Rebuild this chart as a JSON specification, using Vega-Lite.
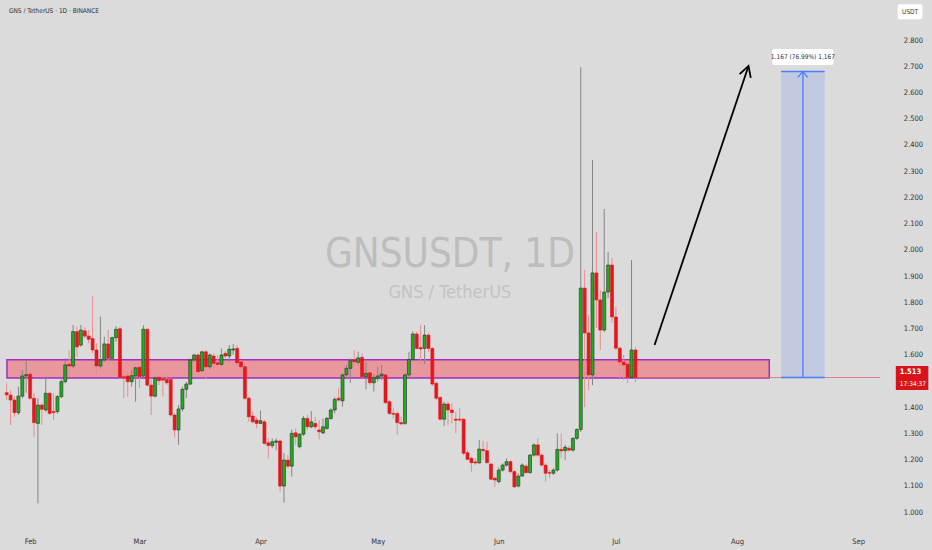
{
"$schema": "https://vega.github.io/schema/vega-lite/v6.json",
"width": 885, "height": 528,
"autosize": {"type": "none"},
"padding": {"left": 0, "top": 0, "right": 47, "bottom": 22},
"background": "#dbdbdb",
"config": {"view": {"stroke": null}, "font": "DejaVu Sans Condensed, Liberation Sans, sans-serif", "axis": {"labelFont": "DejaVu Sans Condensed, Liberation Sans, sans-serif", "labelFontSize": 7.5, "labelColor": "#333333", "grid": false, "ticks": false, "tickSize": 0, "domain": false, "labelFlush": false}},
"datasets": {
"candles": [
{"t":"2025-01-26","o":1.455,"h":1.491,"l":1.427,"c":1.447},
{"t":"2025-01-27","o":1.446,"h":1.465,"l":1.332,"c":1.427},
{"t":"2025-01-28","o":1.427,"h":1.440,"l":1.363,"c":1.379},
{"t":"2025-01-29","o":1.379,"h":1.478,"l":1.370,"c":1.442},
{"t":"2025-01-30","o":1.442,"h":1.542,"l":1.434,"c":1.519},
{"t":"2025-01-31","o":1.519,"h":1.580,"l":1.455,"c":1.524},
{"t":"2025-02-01","o":1.526,"h":1.531,"l":1.427,"c":1.434},
{"t":"2025-02-02","o":1.434,"h":1.453,"l":1.287,"c":1.341},
{"t":"2025-02-03","o":1.338,"h":1.434,"l":1.033,"c":1.408},
{"t":"2025-02-04","o":1.408,"h":1.415,"l":1.332,"c":1.392},
{"t":"2025-02-05","o":1.389,"h":1.516,"l":1.383,"c":1.453},
{"t":"2025-02-06","o":1.453,"h":1.459,"l":1.370,"c":1.376},
{"t":"2025-02-07","o":1.383,"h":1.453,"l":1.351,"c":1.379},
{"t":"2025-02-08","o":1.383,"h":1.446,"l":1.376,"c":1.440},
{"t":"2025-02-09","o":1.440,"h":1.506,"l":1.434,"c":1.497},
{"t":"2025-02-10","o":1.497,"h":1.586,"l":1.491,"c":1.561},
{"t":"2025-02-11","o":1.564,"h":1.618,"l":1.516,"c":1.557},
{"t":"2025-02-12","o":1.557,"h":1.713,"l":1.548,"c":1.688},
{"t":"2025-02-13","o":1.688,"h":1.709,"l":1.592,"c":1.630},
{"t":"2025-02-14","o":1.637,"h":1.713,"l":1.630,"c":1.694},
{"t":"2025-02-15","o":1.691,"h":1.704,"l":1.662,"c":1.671},
{"t":"2025-02-16","o":1.671,"h":1.694,"l":1.643,"c":1.659},
{"t":"2025-02-17","o":1.662,"h":1.824,"l":1.605,"c":1.618},
{"t":"2025-02-18","o":1.618,"h":1.643,"l":1.523,"c":1.557},
{"t":"2025-02-19","o":1.557,"h":1.745,"l":1.548,"c":1.580},
{"t":"2025-02-20","o":1.580,"h":1.669,"l":1.573,"c":1.641},
{"t":"2025-02-21","o":1.641,"h":1.694,"l":1.573,"c":1.586},
{"t":"2025-02-22","o":1.586,"h":1.669,"l":1.580,"c":1.665},
{"t":"2025-02-23","o":1.665,"h":1.709,"l":1.650,"c":1.697},
{"t":"2025-02-24","o":1.699,"h":1.707,"l":1.506,"c":1.514},
{"t":"2025-02-25","o":1.516,"h":1.542,"l":1.434,"c":1.512},
{"t":"2025-02-26","o":1.519,"h":1.535,"l":1.440,"c":1.497},
{"t":"2025-02-27","o":1.497,"h":1.542,"l":1.478,"c":1.520},
{"t":"2025-02-28","o":1.519,"h":1.554,"l":1.421,"c":1.550},
{"t":"2025-03-01","o":1.552,"h":1.564,"l":1.472,"c":1.516},
{"t":"2025-03-02","o":1.519,"h":1.713,"l":1.514,"c":1.697},
{"t":"2025-03-03","o":1.697,"h":1.701,"l":1.478,"c":1.484},
{"t":"2025-03-04","o":1.484,"h":1.510,"l":1.370,"c":1.442},
{"t":"2025-03-05","o":1.442,"h":1.519,"l":1.437,"c":1.510},
{"t":"2025-03-06","o":1.514,"h":1.523,"l":1.484,"c":1.501},
{"t":"2025-03-07","o":1.508,"h":1.523,"l":1.440,"c":1.503},
{"t":"2025-03-08","o":1.506,"h":1.529,"l":1.484,"c":1.493},
{"t":"2025-03-09","o":1.506,"h":1.510,"l":1.363,"c":1.370},
{"t":"2025-03-10","o":1.370,"h":1.376,"l":1.285,"c":1.313},
{"t":"2025-03-11","o":1.313,"h":1.408,"l":1.256,"c":1.393},
{"t":"2025-03-12","o":1.393,"h":1.478,"l":1.383,"c":1.468},
{"t":"2025-03-13","o":1.468,"h":1.497,"l":1.434,"c":1.488},
{"t":"2025-03-14","o":1.488,"h":1.586,"l":1.484,"c":1.580},
{"t":"2025-03-15","o":1.580,"h":1.603,"l":1.573,"c":1.599},
{"t":"2025-03-16","o":1.599,"h":1.605,"l":1.529,"c":1.535},
{"t":"2025-03-17","o":1.539,"h":1.615,"l":1.535,"c":1.611},
{"t":"2025-03-18","o":1.611,"h":1.618,"l":1.506,"c":1.554},
{"t":"2025-03-19","o":1.554,"h":1.605,"l":1.544,"c":1.599},
{"t":"2025-03-20","o":1.595,"h":1.605,"l":1.554,"c":1.567},
{"t":"2025-03-21","o":1.569,"h":1.599,"l":1.548,"c":1.563},
{"t":"2025-03-22","o":1.563,"h":1.624,"l":1.557,"c":1.599},
{"t":"2025-03-23","o":1.605,"h":1.615,"l":1.586,"c":1.595},
{"t":"2025-03-24","o":1.595,"h":1.637,"l":1.573,"c":1.621},
{"t":"2025-03-25","o":1.618,"h":1.641,"l":1.599,"c":1.622},
{"t":"2025-03-26","o":1.624,"h":1.637,"l":1.554,"c":1.569},
{"t":"2025-03-27","o":1.573,"h":1.580,"l":1.542,"c":1.554},
{"t":"2025-03-28","o":1.554,"h":1.561,"l":1.427,"c":1.434},
{"t":"2025-03-29","o":1.434,"h":1.440,"l":1.344,"c":1.363},
{"t":"2025-03-30","o":1.366,"h":1.383,"l":1.338,"c":1.344},
{"t":"2025-03-31","o":1.351,"h":1.363,"l":1.319,"c":1.338},
{"t":"2025-04-01","o":1.338,"h":1.386,"l":1.336,"c":1.348},
{"t":"2025-04-02","o":1.344,"h":1.351,"l":1.256,"c":1.262},
{"t":"2025-04-03","o":1.264,"h":1.281,"l":1.205,"c":1.254},
{"t":"2025-04-04","o":1.253,"h":1.281,"l":1.243,"c":1.268},
{"t":"2025-04-05","o":1.266,"h":1.281,"l":1.236,"c":1.271},
{"t":"2025-04-06","o":1.271,"h":1.277,"l":1.077,"c":1.099},
{"t":"2025-04-07","o":1.099,"h":1.224,"l":1.035,"c":1.198},
{"t":"2025-04-08","o":1.198,"h":1.217,"l":1.167,"c":1.175},
{"t":"2025-04-09","o":1.175,"h":1.315,"l":1.135,"c":1.300},
{"t":"2025-04-10","o":1.302,"h":1.319,"l":1.256,"c":1.287},
{"t":"2025-04-11","o":1.249,"h":1.300,"l":1.243,"c":1.297},
{"t":"2025-04-12","o":1.297,"h":1.366,"l":1.290,"c":1.357},
{"t":"2025-04-13","o":1.357,"h":1.370,"l":1.313,"c":1.325},
{"t":"2025-04-14","o":1.325,"h":1.385,"l":1.319,"c":1.344},
{"t":"2025-04-15","o":1.338,"h":1.363,"l":1.315,"c":1.325},
{"t":"2025-04-16","o":1.313,"h":1.351,"l":1.277,"c":1.306},
{"t":"2025-04-17","o":1.302,"h":1.357,"l":1.297,"c":1.325},
{"t":"2025-04-18","o":1.319,"h":1.363,"l":1.313,"c":1.357},
{"t":"2025-04-19","o":1.357,"h":1.396,"l":1.351,"c":1.389},
{"t":"2025-04-20","o":1.389,"h":1.437,"l":1.376,"c":1.430},
{"t":"2025-04-21","o":1.434,"h":1.472,"l":1.421,"c":1.427},
{"t":"2025-04-22","o":1.424,"h":1.529,"l":1.402,"c":1.523},
{"t":"2025-04-23","o":1.523,"h":1.561,"l":1.516,"c":1.548},
{"t":"2025-04-24","o":1.548,"h":1.586,"l":1.493,"c":1.577},
{"t":"2025-04-25","o":1.580,"h":1.618,"l":1.554,"c":1.573},
{"t":"2025-04-26","o":1.571,"h":1.611,"l":1.561,"c":1.588},
{"t":"2025-04-27","o":1.590,"h":1.605,"l":1.510,"c":1.516},
{"t":"2025-04-28","o":1.516,"h":1.573,"l":1.468,"c":1.529},
{"t":"2025-04-29","o":1.531,"h":1.561,"l":1.484,"c":1.493},
{"t":"2025-04-30","o":1.493,"h":1.526,"l":1.459,"c":1.512},
{"t":"2025-05-01","o":1.510,"h":1.554,"l":1.497,"c":1.519},
{"t":"2025-05-02","o":1.519,"h":1.561,"l":1.503,"c":1.526},
{"t":"2025-05-03","o":1.523,"h":1.529,"l":1.412,"c":1.417},
{"t":"2025-05-04","o":1.421,"h":1.427,"l":1.370,"c":1.376},
{"t":"2025-05-05","o":1.376,"h":1.396,"l":1.357,"c":1.373},
{"t":"2025-05-06","o":1.376,"h":1.383,"l":1.294,"c":1.341},
{"t":"2025-05-07","o":1.341,"h":1.363,"l":1.332,"c":1.336},
{"t":"2025-05-08","o":1.338,"h":1.529,"l":1.332,"c":1.523},
{"t":"2025-05-09","o":1.523,"h":1.611,"l":1.516,"c":1.582},
{"t":"2025-05-10","o":1.582,"h":1.688,"l":1.577,"c":1.679},
{"t":"2025-05-11","o":1.679,"h":1.688,"l":1.621,"c":1.624},
{"t":"2025-05-12","o":1.627,"h":1.713,"l":1.564,"c":1.622},
{"t":"2025-05-13","o":1.624,"h":1.713,"l":1.564,"c":1.675},
{"t":"2025-05-14","o":1.675,"h":1.682,"l":1.611,"c":1.624},
{"t":"2025-05-15","o":1.624,"h":1.630,"l":1.481,"c":1.488},
{"t":"2025-05-16","o":1.491,"h":1.497,"l":1.427,"c":1.434},
{"t":"2025-05-17","o":1.437,"h":1.442,"l":1.348,"c":1.354},
{"t":"2025-05-18","o":1.354,"h":1.421,"l":1.328,"c":1.412},
{"t":"2025-05-19","o":1.412,"h":1.421,"l":1.332,"c":1.389},
{"t":"2025-05-20","o":1.389,"h":1.415,"l":1.338,"c":1.379},
{"t":"2025-05-21","o":1.354,"h":1.383,"l":1.300,"c":1.350},
{"t":"2025-05-22","o":1.354,"h":1.396,"l":1.344,"c":1.351},
{"t":"2025-05-23","o":1.354,"h":1.357,"l":1.217,"c":1.224},
{"t":"2025-05-24","o":1.226,"h":1.236,"l":1.198,"c":1.201},
{"t":"2025-05-25","o":1.205,"h":1.211,"l":1.154,"c":1.188},
{"t":"2025-05-26","o":1.191,"h":1.205,"l":1.179,"c":1.187},
{"t":"2025-05-27","o":1.187,"h":1.275,"l":1.185,"c":1.240},
{"t":"2025-05-28","o":1.239,"h":1.272,"l":1.198,"c":1.234},
{"t":"2025-05-29","o":1.234,"h":1.268,"l":1.186,"c":1.188},
{"t":"2025-05-30","o":1.183,"h":1.186,"l":1.122,"c":1.125},
{"t":"2025-05-31","o":1.129,"h":1.135,"l":1.096,"c":1.122},
{"t":"2025-06-01","o":1.116,"h":1.170,"l":1.109,"c":1.160},
{"t":"2025-06-02","o":1.160,"h":1.186,"l":1.154,"c":1.179},
{"t":"2025-06-03","o":1.179,"h":1.205,"l":1.173,"c":1.192},
{"t":"2025-06-04","o":1.192,"h":1.198,"l":1.148,"c":1.154},
{"t":"2025-06-05","o":1.154,"h":1.160,"l":1.090,"c":1.096},
{"t":"2025-06-06","o":1.099,"h":1.148,"l":1.094,"c":1.137},
{"t":"2025-06-07","o":1.137,"h":1.186,"l":1.135,"c":1.179},
{"t":"2025-06-08","o":1.175,"h":1.183,"l":1.148,"c":1.150},
{"t":"2025-06-09","o":1.150,"h":1.221,"l":1.148,"c":1.217},
{"t":"2025-06-10","o":1.217,"h":1.262,"l":1.211,"c":1.256},
{"t":"2025-06-11","o":1.256,"h":1.281,"l":1.211,"c":1.217},
{"t":"2025-06-12","o":1.217,"h":1.224,"l":1.173,"c":1.179},
{"t":"2025-06-13","o":1.179,"h":1.186,"l":1.116,"c":1.148},
{"t":"2025-06-14","o":1.150,"h":1.160,"l":1.129,"c":1.148},
{"t":"2025-06-15","o":1.148,"h":1.167,"l":1.141,"c":1.160},
{"t":"2025-06-16","o":1.160,"h":1.300,"l":1.154,"c":1.239},
{"t":"2025-06-17","o":1.239,"h":1.300,"l":1.205,"c":1.233},
{"t":"2025-06-18","o":1.234,"h":1.256,"l":1.198,"c":1.247},
{"t":"2025-06-19","o":1.243,"h":1.252,"l":1.230,"c":1.236},
{"t":"2025-06-20","o":1.236,"h":1.285,"l":1.230,"c":1.281},
{"t":"2025-06-21","o":1.281,"h":1.319,"l":1.275,"c":1.315},
{"t":"2025-06-22","o":1.315,"h":2.697,"l":1.305,"c":1.854},
{"t":"2025-06-23","o":1.854,"h":1.923,"l":1.400,"c":1.683},
{"t":"2025-06-24","o":1.683,"h":1.751,"l":1.465,"c":1.523},
{"t":"2025-06-25","o":1.523,"h":2.343,"l":1.484,"c":1.912},
{"t":"2025-06-26","o":1.912,"h":2.068,"l":1.702,"c":1.809},
{"t":"2025-06-27","o":1.809,"h":1.847,"l":1.618,"c":1.694},
{"t":"2025-06-28","o":1.694,"h":2.156,"l":1.687,"c":1.839},
{"t":"2025-06-29","o":1.839,"h":1.992,"l":1.816,"c":1.942},
{"t":"2025-06-30","o":1.942,"h":1.969,"l":1.721,"c":1.744},
{"t":"2025-07-01","o":1.744,"h":1.782,"l":1.618,"c":1.625},
{"t":"2025-07-02","o":1.625,"h":1.629,"l":1.511,"c":1.572},
{"t":"2025-07-03","o":1.572,"h":1.599,"l":1.503,"c":1.561},
{"t":"2025-07-04","o":1.564,"h":1.580,"l":1.492,"c":1.514},
{"t":"2025-07-05","o":1.514,"h":1.961,"l":1.511,"c":1.618},
{"t":"2025-07-06","o":1.618,"h":1.629,"l":1.496,"c":1.513}
]
},
"encoding": {
"x": {"field": "t", "type": "temporal", "title": null,
 "scale": {"type": "utc", "nice": false, "domain": [{"year": 2025, "month": 1, "date": 25, "hours": 13, "minutes": 40, "utc": true}, {"year": 2025, "month": 9, "date": 6, "hours": 14, "minutes": 52, "utc": true}]},
 "axis": {"values": [{"year": 2025, "month": 2, "date": 1, "utc": true}, {"year": 2025, "month": 3, "date": 1, "utc": true}, {"year": 2025, "month": 4, "date": 1, "utc": true}, {"year": 2025, "month": 5, "date": 1, "utc": true}, {"year": 2025, "month": 6, "date": 1, "utc": true}, {"year": 2025, "month": 7, "date": 1, "utc": true}, {"year": 2025, "month": 8, "date": 1, "utc": true}, {"year": 2025, "month": 9, "date": 1, "utc": true}], "labelExpr": "utcFormat(datum.value, '%b')", "labelPadding": 9, "labelAlign": "center"}},
"y": {"field": "v", "type": "quantitative", "title": null,
 "scale": {"domain": [0.939, 2.953], "zero": false, "nice": false},
 "axis": {"orient": "right", "values": [1.0, 1.1, 1.2, 1.3, 1.4, 1.6, 1.7, 1.8, 1.9, 2.0, 2.1, 2.2, 2.3, 2.4, 2.5, 2.6, 2.7, 2.8], "format": ".3f", "labelAlign": "center", "labelPadding": 28}}
},
"layer": [
{"data": {"values": [{"t": "2025-05-19T12:00:00Z", "v": 1.980, "label": "GNSUSDT, 1D"}]},
 "mark": {"type": "text", "fontSize": 40, "color": "#bdbdbd", "align": "center", "baseline": "middle"},
 "encoding": {"text": {"field": "label"}}},
{"data": {"values": [{"t": "2025-05-19T12:00:00Z", "v": 1.835, "label": "GNS / TetherUS"}]},
 "mark": {"type": "text", "fontSize": 18, "color": "#c3c3c3", "align": "center", "baseline": "middle"},
 "encoding": {"text": {"field": "label"}}},
{"data": {"values": [{"t": "2025-01-26T01:40:00Z", "t2": "2025-08-09T06:30:00Z", "v": 1.511, "v2": 1.581}]},
 "mark": {"type": "rect", "fill": "#e8979c", "stroke": "#a32cc4", "strokeWidth": 1.5},
 "encoding": {"x2": {"field": "t2"}, "y2": {"field": "v2"}}},
{"data": {"values": [{"t": "2025-08-12T07:00:00Z", "t2": "2025-08-23T11:00:00Z", "v": 1.513, "v2": 2.680}]},
 "mark": {"type": "rect", "fill": "#c2cae2"},
 "encoding": {"x2": {"field": "t2"}, "y2": {"field": "v2"}}},
{"data": {"values": [{"t": "2025-07-06T00:00:00Z", "t2": "2025-09-06T14:52:00Z", "v": 1.513}]},
 "mark": {"type": "rule", "color": "#e0686c", "strokeWidth": 0.8},
 "encoding": {"x2": {"field": "t2"}}},
{"data": {"values": [{"t": "2025-08-12T07:00:00Z", "t2": "2025-08-23T11:00:00Z", "v": 2.680}, {"t": "2025-08-12T07:00:00Z", "t2": "2025-08-23T11:00:00Z", "v": 1.513}]},
 "mark": {"type": "rule", "color": "#4b7ef4", "strokeWidth": 1.5},
 "encoding": {"x2": {"field": "t2"}}},
{"data": {"values": [
  {"t": "2025-08-17T21:00:00Z", "v": 1.513, "seg": "a", "k": 0},
  {"t": "2025-08-17T21:00:00Z", "v": 2.680, "seg": "a", "k": 1},
  {"t": "2025-08-16T12:45:00Z", "v": 2.658, "seg": "h", "k": 0},
  {"t": "2025-08-17T21:00:00Z", "v": 2.680, "seg": "h", "k": 1},
  {"t": "2025-08-19T01:30:00Z", "v": 2.658, "seg": "h", "k": 2}]},
 "mark": {"type": "line", "color": "#4b7ef4", "strokeWidth": 1.3},
 "encoding": {"detail": {"field": "seg"}, "order": {"field": "k"}}},
{"data": {"values": [{"t": "2025-08-10T00:45:00Z", "t2": "2025-08-25T17:15:00Z", "v": 2.705, "v2": 2.766}]},
 "mark": {"type": "rect", "fill": "#ffffff", "cornerRadius": 2},
 "encoding": {"x2": {"field": "t2"}, "y2": {"field": "v2"}}},
{"data": {"values": [{"t": "2025-08-17T21:00:00Z", "v": 2.736, "label": "1.167 (76.99%) 1,167"}]},
 "mark": {"type": "text", "fontSize": 6.5, "color": "#333333", "align": "center", "baseline": "middle"},
 "encoding": {"text": {"field": "label"}}},
{"data": {"name": "candles"},
 "mark": {"type": "rule", "strokeWidth": 1},
 "encoding": {
  "y": {"field": "l", "type": "quantitative", "title": null, "scale": {"domain": [0.939, 2.953], "zero": false, "nice": false}},
  "y2": {"field": "h"},
  "color": {"condition": {"test": "datum.c >= datum.o", "value": "#858585"}, "value": "#ea8c8c"}}},
{"data": {"name": "candles"},
 "mark": {"type": "bar", "size": 3, "strokeWidth": 0.6},
 "encoding": {
  "y": {"field": "o", "type": "quantitative", "title": null, "scale": {"domain": [0.939, 2.953], "zero": false, "nice": false}},
  "y2": {"field": "c"},
  "fill": {"condition": {"test": "datum.c >= datum.o", "value": "#1cb01c"}, "value": "#e3171c"},
  "stroke": {"condition": {"test": "datum.c >= datum.o", "value": "#2a2a2a"}, "value": "#e3171c"}}},
{"data": {"values": [
  {"t": "2025-07-10T21:35:00Z", "v": 1.637, "seg": "a", "k": 0},
  {"t": "2025-08-03T22:48:00Z", "v": 2.701, "seg": "a", "k": 1},
  {"t": "2025-08-01T16:00:00Z", "v": 2.670, "seg": "h", "k": 0},
  {"t": "2025-08-03T22:48:00Z", "v": 2.701, "seg": "h", "k": 1},
  {"t": "2025-08-04T12:45:00Z", "v": 2.656, "seg": "h", "k": 2}]},
 "mark": {"type": "line", "color": "#000000", "strokeWidth": 1.8},
 "encoding": {"detail": {"field": "seg"}, "order": {"field": "k"}}},
{"data": {"values": [{"t": "2025-01-26T14:00:00Z", "v": 2.911, "label": "GNS / TetherUS · 1D · BINANCE"}]},
 "mark": {"type": "text", "fontSize": 6.5, "color": "#2e2e2e", "align": "left", "baseline": "middle"},
 "encoding": {"text": {"field": "label"}}},
{"data": {"values": [{"t": "2025-09-11T04:00:00Z", "t2": "2025-09-17T12:00:00Z", "v": 2.880, "v2": 2.937}]},
 "mark": {"type": "rect", "fill": "#ffffff", "cornerRadius": 2},
 "encoding": {"x2": {"field": "t2"}, "y2": {"field": "v2"}}},
{"data": {"values": [{"t": "2025-09-14T08:10:00Z", "v": 2.909, "label": "USDT"}]},
 "mark": {"type": "text", "fontSize": 6.5, "color": "#333333", "align": "center", "baseline": "middle"},
 "encoding": {"text": {"field": "label"}}},
{"data": {"values": [{"t": "2025-09-10T16:00:00Z", "t2": "2025-09-19T00:00:00Z", "v": 1.465, "v2": 1.557}]},
 "mark": {"type": "rect", "fill": "#d8141a"},
 "encoding": {"x2": {"field": "t2"}, "y2": {"field": "v2"}}},
{"data": {"values": [{"t": "2025-09-11T16:30:00Z", "v": 1.534, "label": "1.513"}]},
 "mark": {"type": "text", "fontSize": 7.5, "fontWeight": "bold", "color": "#ffffff", "align": "left", "baseline": "middle"},
 "encoding": {"text": {"field": "label"}}},
{"data": {"values": [{"t": "2025-09-11T16:30:00Z", "v": 1.488, "label": "17:34:37"}]},
 "mark": {"type": "text", "fontSize": 6.5, "color": "#ffffff", "align": "left", "baseline": "middle"},
 "encoding": {"text": {"field": "label"}}}
]
}
